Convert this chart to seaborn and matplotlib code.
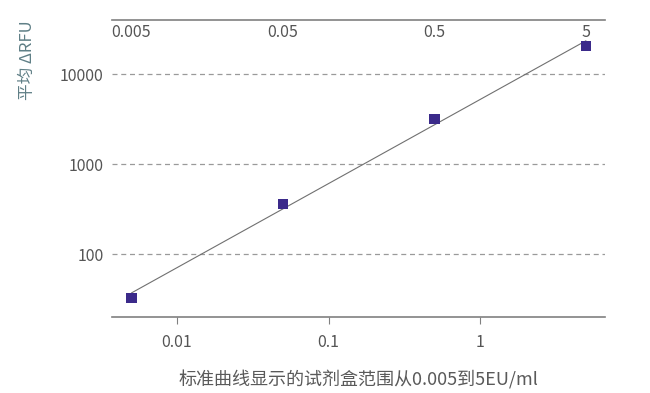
import numpy as np
import pandas as pd
import matplotlib
matplotlib.use("Agg")
import matplotlib.pyplot as plt
import seaborn as sns
from matplotlib.ticker import FixedLocator, NullLocator, NullFormatter

# Data
concentration = [0.005, 0.05, 0.5, 5]           # EU/ml
mean_drfu = [32.5, 360, 3160, 20500]           # mean ΔRFU
top_labels = ["0.005", "0.05", "0.5", "5"]
bottom_ticks = [0.01, 0.1, 1]
bottom_tick_labels = ["0.01", "0.1", "1"]
y_ticks = [100, 1000, 10000]
y_tick_labels = ["100", "1000", "10000"]

sns.set_theme(style="white")
plt.rcParams['font.family'] = ['Noto Sans CJK SC', 'DejaVu Sans']

df = pd.DataFrame({"conc": concentration, "rfu": mean_drfu})

fig = plt.figure(figsize=(6.5, 3.93), dpi=100)
ax = fig.add_axes([112/650, 1 - 317/393, (605-112)/650, (317-20)/393])

ax.set_xscale("log")
ax.set_yscale("log")
ax.set_xlim(0.00372, 6.68)
ax.set_ylim(20, 40000)

# Fit line in log-log space
lx = np.log10(df["conc"].values)
ly = np.log10(df["rfu"].values)
slope, intercept = np.polyfit(lx, ly, 1)
fx = np.array([lx.min(), lx.max()])
fit_df = pd.DataFrame({"conc": 10**fx, "rfu": 10**(slope*fx + intercept)})
sns.lineplot(data=fit_df, x="conc", y="rfu", ax=ax, color="#707070", lw=0.8, zorder=2)

sns.scatterplot(data=df, x="conc", y="rfu", ax=ax, marker="s", s=55,
                color="#3b2a8a", edgecolor="none", zorder=3)

# Grid
for yv in y_ticks:
    ax.axhline(yv, color="#9a9a9a", lw=0.9, ls=(0, (4, 3)), zorder=1)

text_color = "#555555"
ax.xaxis.set_major_locator(FixedLocator(bottom_ticks))
ax.set_xticklabels(bottom_tick_labels)
ax.xaxis.set_minor_locator(NullLocator())
ax.yaxis.set_major_locator(FixedLocator(y_ticks))
ax.set_yticklabels(y_tick_labels)
ax.yaxis.set_minor_locator(NullLocator())
ax.yaxis.set_minor_formatter(NullFormatter())
ax.xaxis.set_minor_formatter(NullFormatter())

ax.tick_params(axis="x", which="major", length=5, width=0.8, color="#808080",
               labelsize=11.5, labelcolor=text_color, pad=7, bottom=True)
ax.tick_params(axis="y", which="major", length=0, labelsize=11.5,
               labelcolor=text_color, pad=6)

for s in ["left", "right"]:
    ax.spines[s].set_visible(False)
for s in ["top", "bottom"]:
    ax.spines[s].set_visible(True)
    ax.spines[s].set_color("#808080")
    ax.spines[s].set_linewidth(1.2)

# Top labels
for xv, lab in zip(concentration, top_labels):
    ax.text(xv, 0.985, lab, transform=ax.get_xaxis_transform(), ha="center",
            va="top", fontsize=11.5, color=text_color)

ax.set_xlabel("标准曲线显示的试剂盒范围从0.005到5EU/ml", fontsize=13,
              color="#5a5a5a", labelpad=14)
ax.set_ylabel("平均 ΔRFU", fontsize=12, color="#5f7f86", labelpad=0)
ax.yaxis.set_label_coords(-0.155, 0.865)

fig.savefig("out.png", dpi=100)
